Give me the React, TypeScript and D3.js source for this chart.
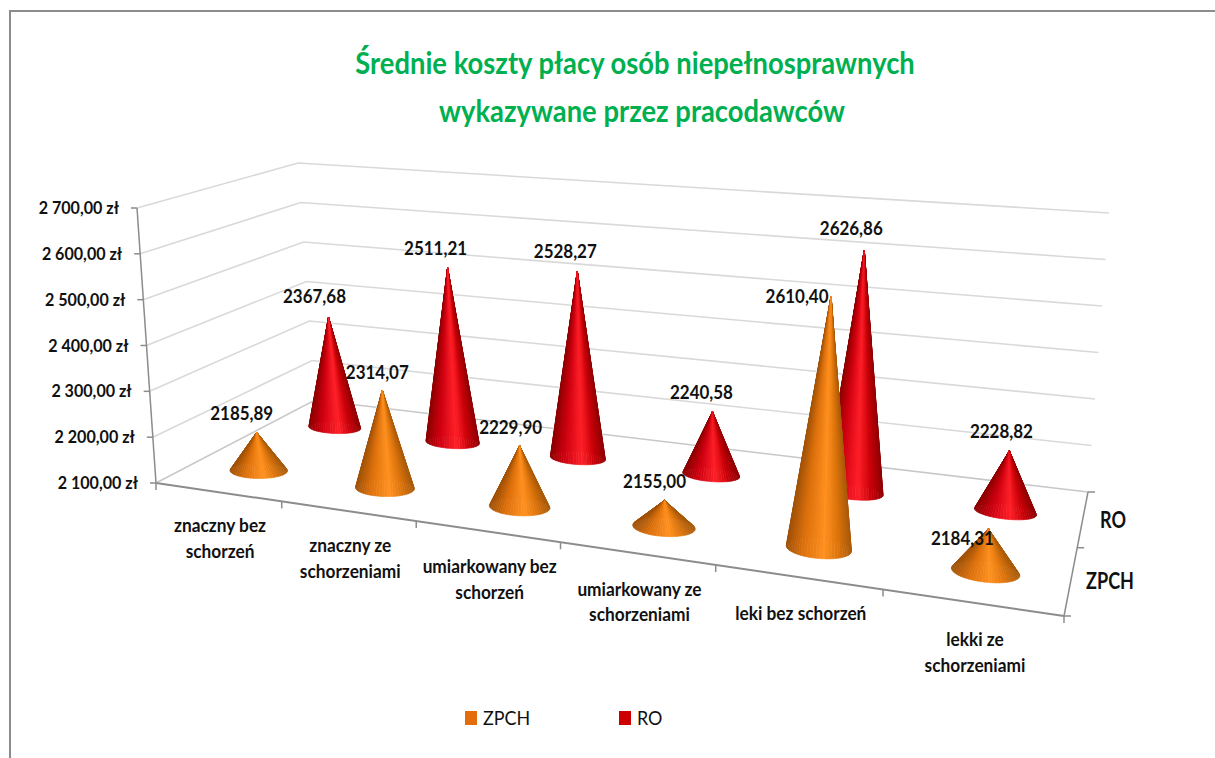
import React from 'react';
import * as d3 from 'd3';

const categories = ['znaczny bez schorzeń', 'znaczny ze schorzeniami', 'umiarkowany bez schorzeń', 'umiarkowany ze schorzeniami', 'leki bez schorzeń', 'lekki ze schorzeniami'];
const categoryLines = [['znaczny bez', 'schorzeń'], ['znaczny ze', 'schorzeniami'], ['umiarkowany bez', 'schorzeń'], ['umiarkowany ze', 'schorzeniami'], ['leki bez schorzeń'], ['lekki ze', 'schorzeniami']];
const seriesNames = ['ZPCH', 'RO'];
const zpchValues = [2185.89, 2314.07, 2229.9, 2155.0, 2610.4, 2184.31];
const roValues = [2367.68, 2511.21, 2528.27, 2240.58, 2626.86, 2228.82];
const valueTicks = [2100, 2200, 2300, 2400, 2500, 2600, 2700];
const titleLines = ['Średnie koszty płacy osób niepełnosprawnych', 'wykazywane przez pracodawców'];

const FONT = 'Lato, "Open Sans", sans-serif';
const orangeStops = ['#a05208', '#dc700c', '#ff9120', '#dc740c', '#a85a0a'];
const redStops = ['#8c0000', '#cc0010', '#ff2028', '#c80008', '#8e0004'];

// Floor quad: front-left, front-right, back-right, back-left
const quad: [number, number][] = [[156, 483], [1064, 616], [1088, 492], [315, 400]];
// Full-height vectors at the same corners
const upVec: [number, number][] = [[-19, -275], [27, -322], [21, -279], [-17, -237]];

function makeHomography(q: [number, number][]) {
  const [[x0, y0], [x1, y1], [x2, y2], [x3, y3]] = q;
  const dx1 = x1 - x2, dx2 = x3 - x2, sx = x0 - x1 + x2 - x3;
  const dy1 = y1 - y2, dy2 = y3 - y2, sy = y0 - y1 + y2 - y3;
  const det = dx1 * dy2 - dx2 * dy1;
  const g = (sx * dy2 - dx2 * sy) / det;
  const h = (dx1 * sy - sx * dy1) / det;
  const a = x1 - x0 + g * x1, b = x3 - x0 + h * x3;
  const d = y1 - y0 + g * y1, e = y3 - y0 + h * y3;
  return (u: number, v: number): [number, number] => {
    const w = g * u + h * v + 1;
    return [(a * u + b * v + x0) / w, (d * u + e * v + y0) / w];
  };
}
const floor = makeHomography(quad);
const heightScale = d3.scaleLinear().domain([2100, 2700]).range([0, 1]);
const uBand = d3.scaleBand<string>().domain(categories).range([0.003, 1.003]);
const vBand = d3.scaleBand<string>().domain(seriesNames).range([-0.025, 0.975]);
const radiusU = d3.scaleLinear().domain([0, 1]).range([0.0355, 0.0325]);
const radiusV = d3.scaleLinear().domain([0, 1]).range([0.08, 0.06]);
const coneHeight = 0.985;

function project(u: number, v: number, value: number, k = 1): [number, number] {
  const [x, y] = floor(u, v);
  const t = heightScale(value) * k;
  const ux = (1 - u) * (1 - v) * upVec[0][0] + u * (1 - v) * upVec[1][0] + u * v * upVec[2][0] + (1 - u) * v * upVec[3][0];
  const uy = (1 - u) * (1 - v) * upVec[0][1] + u * (1 - v) * upVec[1][1] + u * v * upVec[2][1] + (1 - u) * v * upVec[3][1];
  return [x + ux * t, y + uy * t];
}

const line = d3.line();
const SEGMENTS = 64;

function T({ x, y, sx, size, weight = 700, fill = '#111', anchor = 'middle', children }: { x: number; y: number; sx: number; size: number; weight?: number; fill?: string; anchor?: string; children: React.ReactNode }) {
  return <text transform={`translate(${x},${y}) scale(${sx},1)`} textAnchor={anchor} fontFamily={FONT} fontWeight={weight} fontSize={size} fill={fill}>{children}</text>;
}

function Cone({ category, series, value, stops }: { category: string; series: string; value: number; stops: string[] }) {
  const u = uBand(category)! + uBand.bandwidth() / 2;
  const v = vBand(series)! + vBand.bandwidth() / 2;
  const apex = project(u, v, value, coneHeight);
  const du = radiusU(u), dv = radiusV(v);
  const ring = d3.range(SEGMENTS + 1).map(k => {
    const a = (k / SEGMENTS) * 2 * Math.PI;
    return floor(u + du * Math.cos(a), v + dv * Math.sin(a));
  });
  const xs = d3.extent(ring, p => p[0]) as [number, number];
  const colour = d3.scaleLinear<string>().domain([0, 0.25, 0.58, 0.8, 1]).range(stops);
  const wedges = d3.range(SEGMENTS).map(k => {
    const p = ring[k], q = ring[k + 1];
    return { d: line([apex, p, q])! + 'Z', y: (p[1] + q[1]) / 2, c: colour(((p[0] + q[0]) / 2 - xs[0]) / (xs[1] - xs[0])) };
  }).sort((a, b) => a.y - b.y);
  return <g>{wedges.map((w, i) => <path key={i} d={w.d} fill={w.c} stroke={w.c} strokeWidth={0.6} strokeLinejoin="round" />)}</g>;
}

function ValueLabel({ category, series, value, dx, dy }: { category: string; series: string; value: number; dx: number; dy: number }) {
  const u = uBand(category)! + uBand.bandwidth() / 2;
  const v = vBand(series)! + vBand.bandwidth() / 2;
  const [x, y] = project(u, v, value, coneHeight);
  return <T x={x + dx} y={y + dy} sx={0.917} size={18.5}>{d3.format('.2f')(value).replace('.', ',')}</T>;
}

export default function App() {
  const gridPath = (val: number) => line([project(0, 0, val), project(0, 1, val), project(1, 1, val)])!;
  const labelDxZ = [-15, -5, -9, -10, -34, -26];
  const labelDyZ = [-12, -11, -12, -12, 7, 16];
  const labelDxR = [-14, -12, -12, -11, -13, -8];
  const labelDyR = [-14, -13, -13, -13, -15, -13];
  return (
    <svg width={1215} height={758} style={{ position: 'absolute', left: 0, top: 0, background: '#fff' }}>
      <path d="M10,758V11H1215" fill="none" stroke="#8c8c8c" strokeWidth={2} />
      {titleLines.map((t, i) => (
        <T key={t} x={i === 0 ? 635 : 642} y={i === 0 ? 74 : 122} sx={0.913} size={30} fill="#00b050">{t}</T>
      ))}
      {valueTicks.map(t => <path key={t} d={gridPath(t)} fill="none" stroke={t === 2100 ? '#c8c8c8' : '#d9d9d9'} strokeWidth={1.6} />)}
      <path d={line([project(0, 0, 2100), project(0, 0, 2700)])!} stroke="#8c8c8c" strokeWidth={1.5} fill="none" />
      <path d={line([project(0, 0, 2100), project(1, 0, 2100)])!} stroke="#8c8c8c" strokeWidth={2} fill="none" />
      <path d={line([project(1, 0, 2100), project(1, 1, 2100)])!} stroke="#8c8c8c" strokeWidth={1.5} fill="none" />
      {valueTicks.map(t => {
        const [x, y] = project(0, 0, t);
        return (
          <g key={t}>
            <line x1={x - 6} x2={x} y1={y} y2={y} stroke="#8c8c8c" strokeWidth={1.5} />
            <T x={x - 18} y={y + 6} sx={0.947} size={17} anchor="end">{d3.format(',.2f')(t).replace(',', ' ').replace('.', ',')} zł</T>
          </g>
        );
      })}
      {d3.range(categories.length + 1).map(i => {
        const [x, y] = floor(i / categories.length, 0);
        return <line key={i} x1={x} x2={x} y1={y} y2={y + 7} stroke="#8c8c8c" strokeWidth={1.5} />;
      })}
      {[0, 0.5, 1].map(v => {
        const [x, y] = floor(1, v);
        return <line key={v} x1={x} x2={x + 7} y1={y} y2={y} stroke="#8c8c8c" strokeWidth={1.5} />;
      })}
      {categories.map((c, i) => {
        const [x, y] = floor(uBand(c)! + uBand.bandwidth() / 2, 0);
        return categoryLines[i].map((l, j) => (
          <T key={l} x={x} y={y + 40 + i * 0.7 + j * 25.5} sx={0.96} size={18}>{l}</T>
        ));
      })}
      {seriesNames.map((s, i) => (
        <T key={s} x={i === 0 ? 1110 : 1113} y={i === 0 ? 589 : 528} sx={0.82} size={22}>{s}</T>
      ))}
      {categories.map((c, i) => <Cone key={c} category={c} series="RO" value={roValues[i]} stops={redStops} />)}
      {categories.map((c, i) => <Cone key={c} category={c} series="ZPCH" value={zpchValues[i]} stops={orangeStops} />)}
      {categories.map((c, i) => <ValueLabel key={c} category={c} series="RO" value={roValues[i]} dx={labelDxR[i]} dy={labelDyR[i]} />)}
      {categories.map((c, i) => <ValueLabel key={c} category={c} series="ZPCH" value={zpchValues[i]} dx={labelDxZ[i]} dy={labelDyZ[i]} />)}
      {seriesNames.map((s, i) => (
        <g key={s}>
          <rect x={465 + i * 154} y={711} width={12} height={14} fill={i === 0 ? '#e46c0a' : '#cc0000'} />
          <T x={483 + i * 154} y={725} sx={0.92} size={19.5} weight={400} anchor="start">{s}</T>
        </g>
      ))}
    </svg>
  );
}
